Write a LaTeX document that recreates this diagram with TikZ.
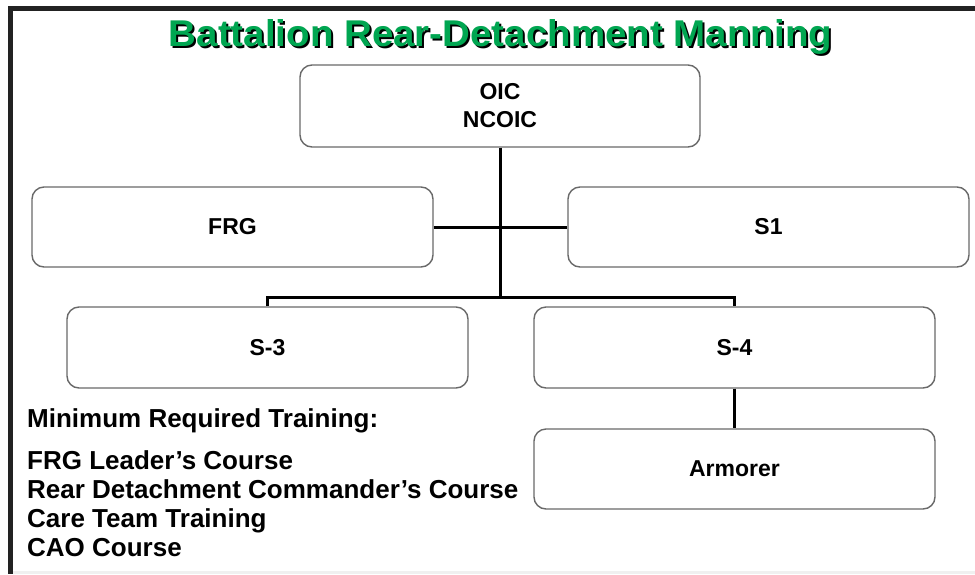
\documentclass[tikz,border=0pt]{standalone}
\usepackage{fontspec}
\setmainfont{Liberation Sans}
\usepackage{graphicx}
\usepackage{pdfrender}
\definecolor{titlegreen}{RGB}{0,166,81}
\definecolor{framegray}{RGB}{34,34,34}
\definecolor{boxgray}{RGB}{105,105,105}
\newcommand{\ttlraw}{\resizebox{663pt}{27pt}{\bfseries Battalion Rear-Detachment Manning}}
\newcommand{\ttlstroked}{\resizebox{663pt}{27pt}{\textpdfrender{TextRenderingMode=FillStroke,LineWidth=0.9pt,StrokeColor=black,FillColor=titlegreen}{\bfseries Battalion Rear-Detachment Manning}}}
\tikzset{
  box/.style={draw=boxgray, line width=1.4pt, rounded corners=12pt, fill=white,
    minimum width=401pt, minimum height=81pt, inner sep=0pt,
    font=\bfseries\fontsize{23}{28}\selectfont, align=center},
  conn/.style={line width=3pt, draw=black},
  trainline/.style={anchor=base west, inner sep=0pt, font=\bfseries\fontsize{26}{29}\selectfont}
}
\begin{document}
\begin{tikzpicture}[x=1pt,y=-1pt]
\useasboundingbox (0,0) rectangle (975,574);
\fill[white] (0,0) rectangle (975,574);
\fill[gray!12] (12.5,571) rectangle (975,574);
\fill[framegray] (8,6) rectangle (975,10.5);
\fill[framegray] (8,6) rectangle (12.5,574);

% title with drop shadow and outline
\node[anchor=base, text=black, inner sep=0pt] (tshadow) at (502.5,48) {\ttlraw};
\node[anchor=base, text=titlegreen, inner sep=0pt] (title) at (500.5,46) {\ttlstroked};

% boxes
\node[box, minimum width=400pt, minimum height=82pt] (oic) at (500,106) {OIC\\NCOIC};
\node[box, minimum height=80pt] (frg) at (232.5,227) {FRG};
\node[box, minimum height=80pt] (s1) at (768.5,227) {S1};
\node[box] (s3) at (267.5,347.5) {S-3};
\node[box] (s4) at (734.5,347.5) {S-4};
\node[box, minimum height=80pt] (arm) at (734.5,469) {Armorer};

% connectors
\coordinate (bus) at (500,297);
\coordinate (busL) at (s3.north |- bus);
\coordinate (busR) at (s4.north |- bus);
\draw[conn] (oic.south) -- (bus);
\draw[conn] (frg.east) -- (s1.west);
\draw[conn] (s3.north) -- (busL) -- (busR) -- (s4.north);
\draw[conn] (s4.south) -- (arm.north);

% training text
\node[trainline] (t0) at (27,427) {Minimum Required Training:};
\node[trainline] (t1) at (27,469) {FRG Leader’s Course};
\node[trainline] (t2) at (27,498) {Rear Detachment Commander’s Course};
\node[trainline] (t3) at (27,527) {Care Team Training};
\node[trainline] (t4) at (27,556) {CAO Course};
\end{tikzpicture}
\end{document}
